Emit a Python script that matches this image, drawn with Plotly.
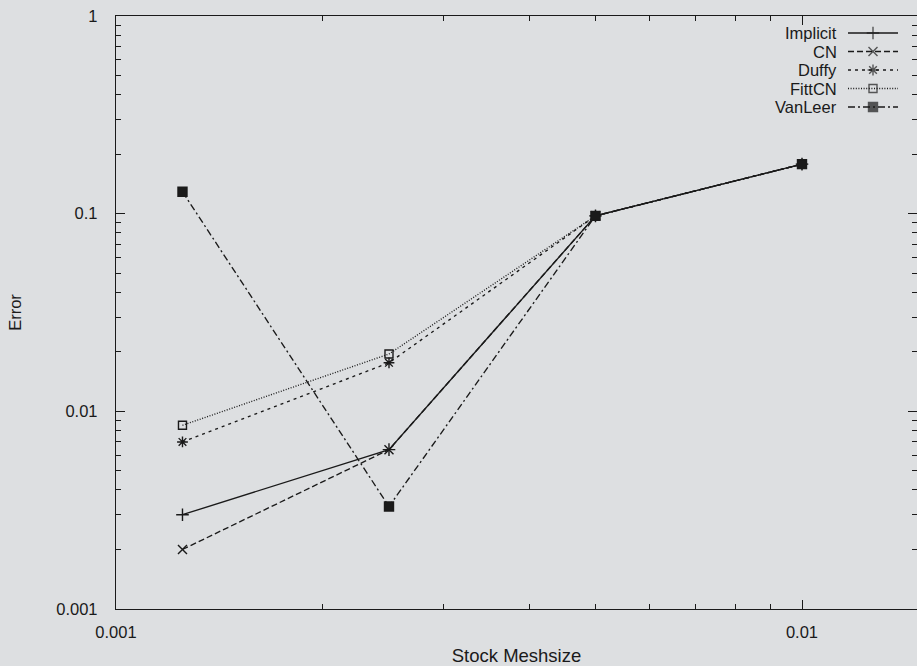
import plotly.graph_objects as go

# Stock meshsize and error per scheme
meshsize = [0.00125, 0.0025, 0.005, 0.01]
err_implicit = [0.0030, 0.0064, 0.0975, 0.178]
err_cn = [0.0020, 0.0064, 0.0975, 0.178]
err_duffy = [0.0070, 0.0176, 0.0975, 0.178]
err_fittcn = [0.0085, 0.0195, 0.0975, 0.178]
err_vanleer = [0.129, 0.0033, 0.0975, 0.178]

x_ticks = [0.001, 0.01]
x_ticklabels = ["0.001", "0.01"]
y_ticks = [0.001, 0.01, 0.1, 1]
y_ticklabels = ["0.001", "0.01", "0.1", "1"]

INK = "#1a1a1a"
BG = "#dddfe1"
FONT = "Liberation Sans, Arial, Helvetica, sans-serif"
FS = 16.5

W, H = 917, 666
L, R, T, B = 116, 0, 16, 57

series = [
    ("Implicit", err_implicit, "solid", "cross-thin-open", 9),
    ("CN", err_cn, "6px,3px", "x-thin-open", 9),
    ("Duffy", err_duffy, "3px,4px", "asterisk-open", 9),
    ("FittCN", err_fittcn, "1px,1.6px", "square-open", 8),
    ("VanLeer", err_vanleer, "7px,3px,2px,3px", "square", 9),
]

fig = go.Figure()
for name, ys, dash, sym, size in series:
    fig.add_trace(go.Scatter(
        x=meshsize, y=ys, name=name, mode="lines+markers",
        line=dict(color=INK, width=1.35, dash=dash),
        marker=dict(symbol=sym, size=size, color=INK,
                    line=dict(color=INK, width=1.4)),
        showlegend=False,
    ))

# gnuplot-style key: label on the left, line sample on the right,
# drawn on a pixel-unit overlay axis
key_y0, key_dy = 33, 18.5
key_text_x, key_x0, key_x1 = 839, 848, 898
annotations = []
for i, (name, ys, dash, sym, size) in enumerate(series):
    ky = key_y0 + i * key_dy
    fig.add_trace(go.Scatter(
        x=[key_x0, (key_x0 + key_x1) / 2, key_x1], y=[ky, ky, ky],
        xaxis="x2", yaxis="y2", mode="lines+markers",
        line=dict(color=INK, width=1.35, dash=dash),
        marker=dict(symbol=sym, size=[0, size, 0], color=INK,
                    line=dict(color=INK, width=[0, 1.4, 0])),
        showlegend=False, hoverinfo="skip",
    ))
    annotations.append(dict(
        x=key_text_x, y=ky, xref="x2", yref="y2", text=name,
        showarrow=False, xanchor="right", yanchor="middle",
        font=dict(family=FONT, size=FS, color=INK),
    ))

minor_x = [m * 10.0 ** e for e in (-3, -2) for m in range(2, 10)]
minor_y = [m * 10.0 ** e for e in (-3, -2, -1) for m in range(2, 10)]

axis_common = dict(
    type="log", showgrid=False, zeroline=False,
    showline=True, linecolor=INK, linewidth=1.4, mirror="ticks",
    ticks="inside", ticklen=9, tickwidth=1.3, tickcolor=INK,
    tickmode="array",
    tickfont=dict(family=FONT, size=FS, color=INK),
)

plot_w = W - L - R
fig.update_layout(
    width=W, height=H,
    margin=dict(l=L, r=R, t=T, b=B, pad=0),
    paper_bgcolor=BG, plot_bgcolor=BG,
    font=dict(family=FONT, size=FS, color=INK),
    xaxis=dict(
        **axis_common,
        range=[-3, -3 + plot_w / 686.0],
        tickvals=x_ticks, ticktext=x_ticklabels,
        ticklabelstandoff=8,
        minor=dict(ticks="inside", ticklen=4.5, tickwidth=1.3, tickcolor=INK,
                   tickvals=minor_x, showgrid=False),
        title=dict(text="Stock Meshsize", standoff=9,
                   font=dict(family=FONT, size=18.5, color=INK)),
    ),
    yaxis=dict(
        **axis_common,
        range=[-3, 0],
        tickvals=y_ticks, ticktext=y_ticklabels,
        ticklabelstandoff=14,
        minor=dict(ticks="inside", ticklen=4.5, tickwidth=1.3, tickcolor=INK,
                   tickvals=minor_y, showgrid=False),
        title=dict(text="Error", standoff=30,
                   font=dict(family=FONT, size=FS, color=INK)),
    ),
    xaxis2=dict(overlaying="x", range=[L, W - R], visible=False, fixedrange=True),
    yaxis2=dict(overlaying="y", range=[H - B, T], visible=False, fixedrange=True),
    annotations=annotations,
    showlegend=False,
)

fig.write_html("out.html")
